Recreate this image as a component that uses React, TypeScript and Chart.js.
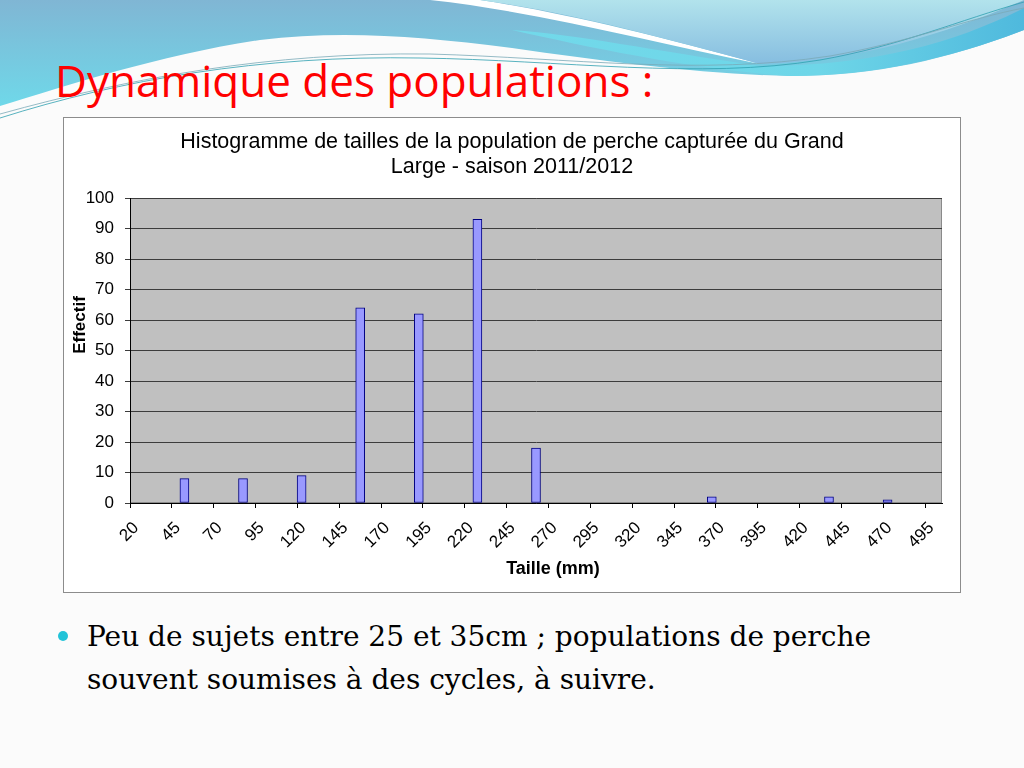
import React, { useEffect, useRef } from "react";
import { Chart, registerables } from "chart.js";

Chart.register(...registerables);

// ---- data ----
const binCenters = [52.5, 87.5, 122.5, 157.5, 192.5, 227.5, 262.5, 297.5, 332.5, 367.5, 402.5, 437.5, 472.5];
const counts = [8, 8, 9, 64, 62, 93, 18, 0, 0, 2, 0, 2, 1];
const xTickValues = [20, 45, 70, 95, 120, 145, 170, 195, 220, 245, 270, 295, 320, 345, 370, 395, 420, 445, 470, 495];
const yTickValues = [0, 10, 20, 30, 40, 50, 60, 70, 80, 90, 100];
const chartTitleLines = [
  "Histogramme de tailles de la population de perche capturée du Grand",
  "Large - saison 2011/2012",
];
const xAxisTitle = "Taille (mm)";
const yAxisTitle = "Effectif";
const slideTitle = "Dynamique des populations :";
const bulletLines = [
  "Peu de sujets entre 25 et 35cm ; populations de perche",
  "souvent soumises à des cycles, à suivre.",
];

const FONT = "'Liberation Sans', Arial, sans-serif";

const decorPlugin = {
  id: "decor",
  beforeDraw(chart: any) {
    const { ctx, chartArea: a } = chart;
    ctx.save();
    ctx.fillStyle = "#c0c0c0";
    ctx.fillRect(a.left, a.top, a.right - a.left, a.bottom - a.top);
    ctx.strokeStyle = "#8a8a8a";
    ctx.lineWidth = 1;
    ctx.strokeRect(a.left + 0.5, a.top + 0.5, a.right - a.left - 1, a.bottom - a.top - 1);
    ctx.restore();
  },
  afterDraw(chart: any) {
    const { ctx, width } = chart;
    ctx.save();
    ctx.fillStyle = "#000";
    ctx.textAlign = "center";
    ctx.textBaseline = "middle";
    ctx.font = `21.5px ${FONT}`;
    chartTitleLines.forEach((t, i) => ctx.fillText(t, width / 2, 24 + i * 25));
    ctx.font = `bold 18px ${FONT}`;
    ctx.fillText(xAxisTitle, 489, 451);
    ctx.font = `bold 17px ${FONT}`;
    ctx.translate(16, 207);
    ctx.rotate(-Math.PI / 2);
    ctx.fillText(yAxisTitle, 0, 0);
    ctx.restore();
  },
};

function HistChart() {
  const ref = useRef<HTMLCanvasElement | null>(null);
  useEffect(() => {
    if (!ref.current) return;
    const chart = new Chart(ref.current, {
      type: "bar",
      data: {
        datasets: [
          {
            data: binCenters.map((x, i) => ({ x, y: counts[i] })),
            backgroundColor: "#9999ff",
            borderColor: "#000080",
            borderWidth: 1,
            borderSkipped: false,
            barThickness: 9,
          } as any,
        ],
      },
      options: {
        animation: false,
        responsive: false,
        maintainAspectRatio: false,
        layout: { padding: { top: 80, right: 18, bottom: 0, left: 0 } },
        plugins: { legend: { display: false }, title: { display: false }, tooltip: { enabled: false } },
        scales: {
          x: {
            type: "linear",
            min: 20,
            max: 505,
            offset: false,
            grid: { drawOnChartArea: false, color: "#000", tickLength: 5, offset: false },
            border: { color: "#000" },
            afterBuildTicks: (s: any) => {
              s.ticks = xTickValues.map((v) => ({ value: v }));
            },
            afterFit: (s: any) => {
              s.height = 89;
            },
            ticks: {
              autoSkip: false,
              minRotation: 45,
              maxRotation: 45,
              padding: 10,
              labelOffset: 6,
              color: "#000",
              font: { family: FONT, size: 17 },
            },
          },
          y: {
            min: 0,
            max: 100,
            afterBuildTicks: (s: any) => {
              s.ticks = yTickValues.map((v) => ({ value: v }));
            },
            afterFit: (s: any) => {
              s.width = 66;
            },
            grid: { color: "#3c3c3c", tickLength: 5 },
            border: { color: "#000" },
            ticks: { padding: 11, color: "#000", font: { family: FONT, size: 17 } },
          },
        },
      },
      plugins: [decorPlugin],
    });
    return () => chart.destroy();
  }, []);
  return <canvas ref={ref} width={896} height={474} style={{ width: 896, height: 474, display: "block" }} />;
}

function Waves() {
  return (
    <svg width={1024} height={130} style={{ position: "absolute", left: 0, top: 0 }}>
      <defs>
        <linearGradient id="gA" x1="0" y1="0" x2="0" y2="1">
          <stop offset="0" stopColor="#80b6d4" />
          <stop offset="1" stopColor="#6fd8e9" />
        </linearGradient>
        <linearGradient id="gB" x1="0" y1="0" x2="0" y2="1">
          <stop offset="0" stopColor="#b2e3ec" />
          <stop offset="1" stopColor="#86bde0" />
        </linearGradient>
        <linearGradient id="gC" x1="0" y1="0" x2="1" y2="0">
          <stop offset="0" stopColor="#72d9ea" />
          <stop offset="0.6" stopColor="#6ed6e8" />
          <stop offset="1" stopColor="#4fb9dd" />
        </linearGradient>
      </defs>
      <path d="M0,0 H1024 V30 C950,58 880,76 790,76 C700,74 610,62 512,48 C420,36 340,30 260,40 C160,55 70,85 0,106 Z" fill="url(#gA)" />
      <path d="M512,30 C600,50 700,70 790,76 C880,76 960,55 1024,30 V8 C960,40 880,66 760,66 C650,50 580,35 512,30 Z" fill="url(#gC)" />
      <path d="M430,0 C540,12 650,42 760,64 C650,34 560,12 480,0 Z" fill="#ffffff" />
      <path d="M480,0 C580,14 670,40 760,64 C860,62 950,32 1024,0 Z" fill="url(#gB)" />
      <path d="M0,118 C120,80 260,55 420,58 C560,60 700,80 820,60 C900,46 960,20 1024,2" fill="none" stroke="#2e9fb0" strokeWidth={0.8} />
      <path d="M0,114 C130,78 270,52 430,54 C570,58 700,76 830,56 C910,42 970,18 1024,8" fill="none" stroke="#7aaab8" strokeWidth={0.8} />
    </svg>
  );
}

export default function App() {
  return (
    <div
      style={{
        position: "absolute",
        left: 0,
        top: 0,
        width: 1024,
        height: 768,
        overflow: "hidden",
        background: "#fbfbfb",
      }}
    >
      <Waves />
      <div
        style={{
          position: "absolute",
          left: 55,
          top: 52,
          fontFamily: "'Open Sans', 'Noto Sans', sans-serif",
          fontSize: 44,
          color: "#ff0000",
          whiteSpace: "nowrap",
          lineHeight: "56px",
        }}
      >
        {slideTitle}
      </div>
      <div
        style={{
          position: "absolute",
          left: 63,
          top: 117,
          width: 898,
          height: 476,
          boxSizing: "border-box",
          border: "1px solid #8c8c8c",
          background: "#ffffff",
        }}
      >
        <HistChart />
      </div>
      <div
        style={{
          position: "absolute",
          left: 58,
          top: 631,
          width: 10,
          height: 10,
          borderRadius: 5,
          background: "#22c3d8",
        }}
      />
      <div
        style={{
          position: "absolute",
          left: 87,
          top: 615,
          fontFamily: "'DejaVu Serif', 'Liberation Serif', serif",
          fontSize: 28,
          lineHeight: "43px",
          color: "#000",
          whiteSpace: "nowrap",
        }}
      >
        {bulletLines.map((l, i) => (
          <div key={i}>{l}</div>
        ))}
      </div>
    </div>
  );
}
